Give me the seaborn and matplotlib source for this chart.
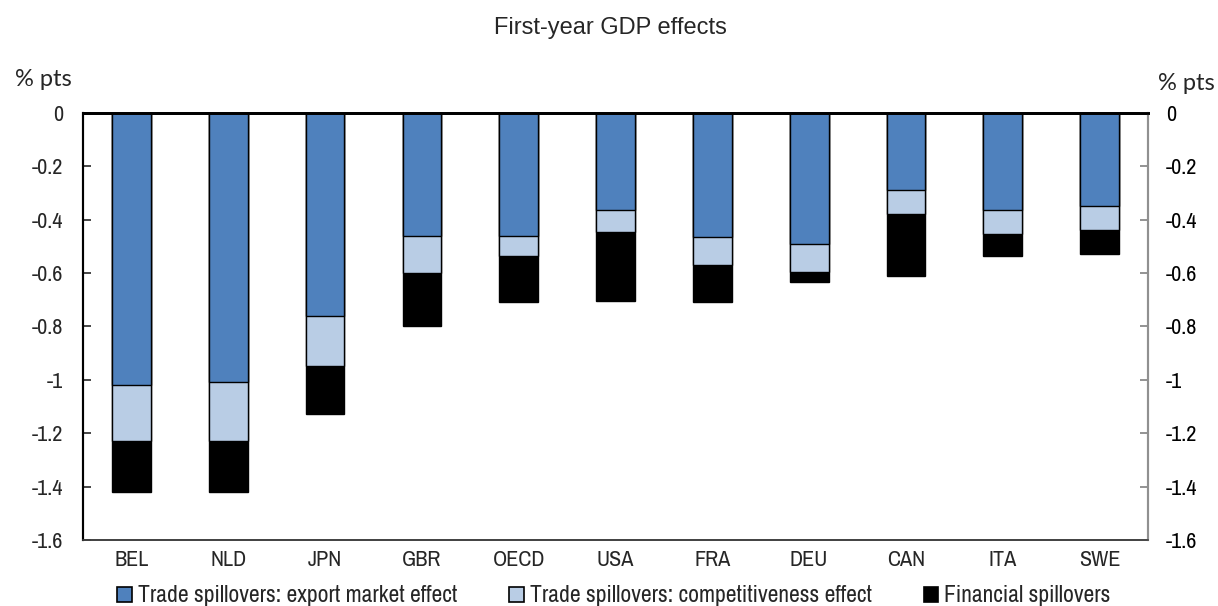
import matplotlib
matplotlib.use("Agg")
import matplotlib.pyplot as plt
from matplotlib import font_manager as fm
import seaborn as sns
import numpy as np
import pandas as pd
from matplotlib.patches import Patch

countries = ["BEL", "NLD", "JPN", "GBR", "OECD", "USA", "FRA", "DEU", "CAN", "ITA", "SWE"]
export_market = [-1.02, -1.01, -0.76, -0.46, -0.46, -0.365, -0.465, -0.49, -0.29, -0.365, -0.35]
competitiveness = [-0.21, -0.22, -0.19, -0.14, -0.075, -0.08, -0.105, -0.105, -0.09, -0.09, -0.09]
financial = [-0.19, -0.19, -0.18, -0.20, -0.175, -0.26, -0.14, -0.04, -0.23, -0.08, -0.09]
series_names = ["Trade spillovers: export market effect",
                "Trade spillovers: competitiveness effect",
                "Financial spillovers"]
yticks = [0, -0.2, -0.4, -0.6, -0.8, -1, -1.2, -1.4, -1.6]
ytick_labels = ["0", "-0.2", "-0.4", "-0.6", "-0.8", "-1", "-1.2", "-1.4", "-1.6"]

colors = ["#4F81BD", "#B9CDE5", "#000000"]

available = {f.name for f in fm.fontManager.ttflist}
narrow_font = next((n for n in ["Liberation Sans Narrow", "Arial Narrow", "Archivo Narrow"]
                    if n in available), "Liberation Sans")
narrow = [narrow_font, "DejaVu Sans"]

sns.set_style("white")
plt.rcParams["font.family"] = narrow

df = pd.DataFrame({"country": countries,
                   "s1": export_market,
                   "s2": competitiveness,
                   "s3": financial})
df["c1"] = df["s1"]
df["c2"] = df["s1"] + df["s2"]
df["c3"] = df["s1"] + df["s2"] + df["s3"]

fig = plt.figure(figsize=(12.18, 6.06), dpi=100)
ax = fig.add_axes([83/1218, 1-540/606, (1148-83)/1218, (540-112.7)/606])

for col, c in zip(["c3", "c2", "c1"], colors[::-1]):
    sns.barplot(data=df, x="country", y=col, color=c, width=0.4,
                edgecolor="black", linewidth=1.0, saturation=1, ax=ax, errorbar=None)

ax.set_ylim(-1.6, 0)
ax.set_xlim(-0.5, len(countries) - 0.5)
ax.set_yticks(yticks)
ax.set_yticklabels(ytick_labels)
ax.set_xlabel("")
ax.set_ylabel("")
ax.tick_params(axis="y", direction="in", length=6, width=1.2, labelsize=16, pad=14.5,
               left=True, right=False)
ax.tick_params(axis="x", length=0, labelsize=16, pad=7)

ax2 = ax.twinx()
ax2.set_ylim(-1.6, 0)
ax2.set_yticks(yticks)
ax2.set_yticklabels(ytick_labels)
ax2.tick_params(axis="y", direction="in", length=6, width=1.2, labelsize=16, pad=13,
                colors="#808080", labelcolor="black")

for a in (ax, ax2):
    for s in a.spines.values():
        s.set_visible(True)
    a.spines["left"].set_color("black")
    a.spines["left"].set_linewidth(1.5)
    a.spines["top"].set_color("black")
    a.spines["top"].set_linewidth(2)
    a.spines["bottom"].set_color("#404040")
    a.spines["bottom"].set_linewidth(1.2)
    a.spines["right"].set_color("#909090")
    a.spines["right"].set_linewidth(1.5)

fig.text(610/1218, 1-28/606, "First-year GDP effects", ha="center", va="center",
         fontsize=17, family=["Liberation Sans", "DejaVu Sans"])
fig.text(15/1218, 1-79/606, "% pts", ha="left", va="center", fontsize=17,
         family=["Lato", "Open Sans", "DejaVu Sans"])
fig.text(1158/1218, 1-83/606, "% pts", ha="left", va="center", fontsize=17,
         family=["Lato", "Open Sans", "DejaVu Sans"])

handles = [Patch(facecolor=c, edgecolor="black", linewidth=1.2) for c in colors]
fig.legend(handles, series_names, loc="center", bbox_to_anchor=(614/1218, 1-596/606),
           ncol=3, frameon=False, fontsize=17, handlelength=0.62, handleheight=0.62,
           handletextpad=0.25, columnspacing=2.2, borderpad=0, borderaxespad=0)

fig.savefig("out.png", dpi=100)
